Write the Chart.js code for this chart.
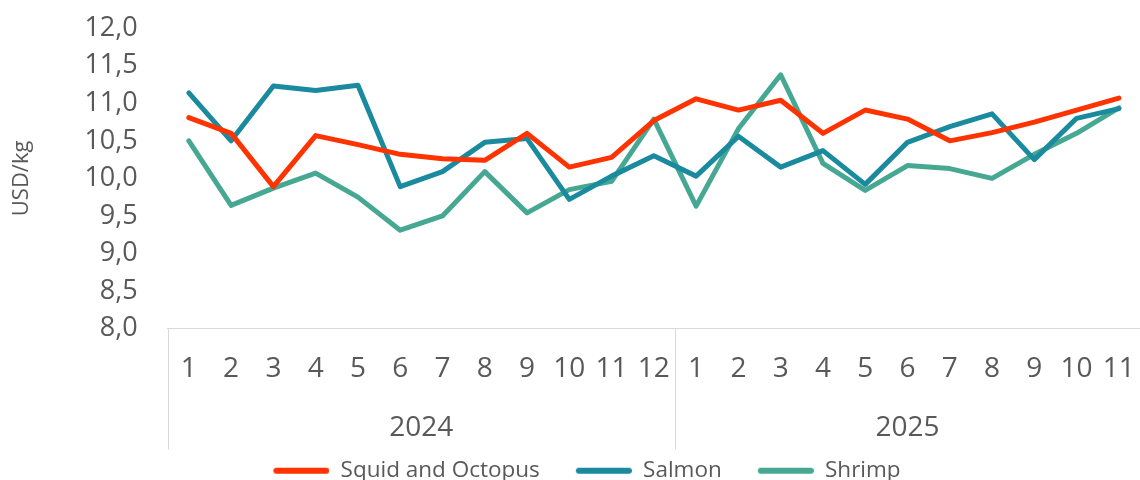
<!DOCTYPE html>
<html>
<head>
<meta charset="utf-8">
<script src="https://cdn.jsdelivr.net/npm/chart.js@4.4.1/dist/chart.umd.min.js"></script>
<style>
  html, body { margin: 0; padding: 0; background: #fff; overflow: hidden; }
  #wrap { width: 1140px; height: 492px; }
</style>
</head>
<body>
<div id="wrap"><canvas id="price-chart"></canvas></div>
<script>
// months per year, as they appear on the axis
var years = ['2024', '2025'];
var monthsPerYear = [12, 11];
var months = ['1','2','3','4','5','6','7','8','9','10','11','12',
              '1','2','3','4','5','6','7','8','9','10','11'];

var squid = [10.81, 10.60, 9.89, 10.57, 10.45, 10.32, 10.26, 10.24, 10.60, 10.15, 10.28, 10.77,
             11.06, 10.91, 11.04, 10.60, 10.91, 10.79, 10.50, 10.61, 10.75, 10.91, 11.07];
var salmon = [11.14, 10.50, 11.23, 11.17, 11.24, 9.89, 10.09, 10.48, 10.53, 9.72, 10.03, 10.30,
              10.03, 10.56, 10.15, 10.37, 9.92, 10.48, 10.69, 10.86, 10.25, 10.80, 10.93];
var shrimp = [10.50, 9.64, 9.87, 10.07, 9.75, 9.31, 9.50, 10.09, 9.54, 9.85, 9.96, 10.79,
              9.63, 10.66, 11.38, 10.20, 9.84, 10.17, 10.13, 10.00, 10.32, 10.60, 10.94];

var textColor = '#595959';
var lineGrey = '#d9d9d9';

// centre of each year group and the boundaries between groups (in category index units)
var yearCenters = [];
var yearBounds = [-0.5];
var start = 0;
for (var i = 0; i < monthsPerYear.length; i++) {
    yearCenters.push(start + (monthsPerYear[i] - 1) / 2);
    start += monthsPerYear[i];
    yearBounds.push(start - 0.5);
}

var yearSeparators = {
    id: 'yearSeparators',
    afterDraw: function(chart) {
        var x2 = chart.scales.x2;
        var ctx = chart.ctx;
        ctx.save();
        ctx.strokeStyle = lineGrey;
        ctx.lineWidth = 1;
        for (var i = 0; i < yearBounds.length; i++) {
            var px = Math.round(x2.getPixelForValue(yearBounds[i])) + 0.5;
            ctx.beginPath();
            ctx.moveTo(px, chart.chartArea.bottom);
            ctx.lineTo(px, x2.bottom + 4);
            ctx.stroke();
        }
        ctx.restore();
    }
};

// legend marker: a short thick line, with some blank room on its left as spacing between items
function legendMarker(color) {
    var c = document.createElement('canvas');
    c.width = 78;
    c.height = 8;
    var g = c.getContext('2d');
    g.strokeStyle = color;
    g.lineWidth = 6;
    g.lineCap = 'round';
    g.beginPath();
    g.moveTo(25, 4);
    g.lineTo(75, 4);
    g.stroke();
    return c;
}

var noLine = { display: true, drawOnChartArea: false, drawTicks: true, color: 'rgba(0,0,0,0)' };

var canvas = document.getElementById('price-chart');
new Chart(canvas, {
    type: 'line',
    data: {
        labels: months,
        datasets: [
            { label: 'Squid and Octopus', data: squid, borderColor: '#ff3300', backgroundColor: '#ff3300' },
            { label: 'Salmon', data: salmon, borderColor: '#1a8a9f', backgroundColor: '#1a8a9f' },
            { label: 'Shrimp', data: shrimp, borderColor: '#46a892', backgroundColor: '#46a892' }
        ]
    },
    options: {
        responsive: true,
        maintainAspectRatio: false,
        animation: false,
        layout: { padding: { top: 10, right: -3, left: 9, bottom: 0 } },
        elements: {
            line: { borderWidth: 5, tension: 0, borderCapStyle: 'round', borderJoinStyle: 'round' },
            point: { radius: 0 }
        },
        scales: {
            y: {
                min: 8,
                max: 12,
                ticks: {
                    stepSize: 0.5,
                    autoSkip: false,
                    color: textColor,
                    padding: 8,
                    font: { family: 'Open Sans', size: 27, lineHeight: 1.5 },
                    callback: function(v) { return v.toFixed(1).replace('.', ','); }
                },
                grid: Object.assign({ tickLength: 22 }, noLine),
                border: { display: false },
                title: {
                    display: true,
                    text: 'USD/kg',
                    color: textColor,
                    font: { family: 'Open Sans', size: 22 },
                    padding: { top: 0, bottom: 41 }
                }
            },
            x: {
                offset: true,
                ticks: {
                    color: textColor,
                    padding: 4,
                    maxRotation: 0,
                    autoSkip: false,
                    font: { family: 'Open Sans', size: 28, lineHeight: 1 }
                },
                grid: Object.assign({ tickLength: 23, offset: false }, noLine),
                border: { display: true, color: lineGrey, width: 1 }
            },
            x2: {
                type: 'linear',
                position: 'bottom',
                min: -0.5,
                max: monthsPerYear.reduce(function(a, b) { return a + b; }, 0) - 0.5,
                afterBuildTicks: function(axis) {
                    axis.ticks = yearCenters.map(function(c) { return { value: c }; });
                },
                ticks: {
                    color: textColor,
                    padding: 3,
                    maxRotation: 0,
                    font: { family: 'Open Sans', size: 28, lineHeight: 1 },
                    callback: function(v) { return years[yearCenters.indexOf(v)]; }
                },
                grid: Object.assign({ tickLength: 24 }, noLine),
                border: { display: false }
            }
        },
        plugins: {
            legend: {
                position: 'bottom',
                labels: {
                    usePointStyle: true,
                    pointStyleWidth: 78,
                    color: textColor,
                    padding: 14,
                    font: { family: 'Open Sans', size: 22.5 },
                    generateLabels: function(chart) {
                        return chart.data.datasets.map(function(ds, i) {
                            return {
                                text: ds.label,
                                datasetIndex: i,
                                fillStyle: ds.borderColor,
                                strokeStyle: ds.borderColor,
                                lineWidth: 0,
                                pointStyle: legendMarker(ds.borderColor),
                                fontColor: textColor,
                                hidden: false
                            };
                        });
                    }
                }
            },
            tooltip: { enabled: false }
        }
    },
    plugins: [yearSeparators]
});
</script>
</body>
</html>
